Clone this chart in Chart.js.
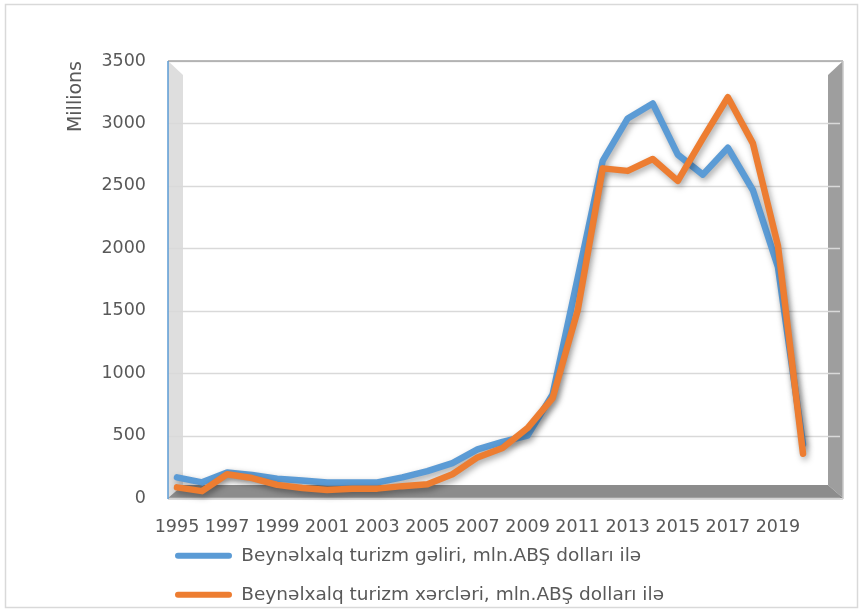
<!DOCTYPE html>
<html>
<head>
<meta charset="utf-8">
<script src="https://cdn.jsdelivr.net/npm/chart.js@4.4.1/dist/chart.umd.min.js"></script>
<style>
  html, body { margin: 0; padding: 0; background: #fff; }
  canvas { display: block; }
</style>
</head>
<body>
<canvas id="tourism" width="863" height="610"></canvas>
<script>
// years on the category axis
const years = [1995, 1996, 1997, 1998, 1999, 2000, 2001, 2002, 2003, 2004, 2005, 2006, 2007,
  2008, 2009, 2010, 2011, 2012, 2013, 2014, 2015, 2016, 2017, 2018, 2019, 2020];

// international tourism receipts, mln USD
const receipts = [165, 125, 205, 185, 155, 140, 125, 125, 125, 165, 215, 280, 390,
  450, 500, 830, 1760, 2700, 3040, 3160, 2750, 2590, 2805, 2465, 1850, 430];

// international tourism expenditures, mln USD
const expenses = [85, 55, 190, 160, 105, 80, 65, 75, 75, 95, 110, 190, 325,
  400, 560, 800, 1500, 2640, 2620, 2715, 2540, 2880, 3210, 2840, 2020, 355];

const yTicks = [0, 500, 1000, 1500, 2000, 2500, 3000, 3500];

const seriesNames = [
  'Beynəlxalq turizm gəliri, mln.ABŞ dolları ilə',
  'Beynəlxalq turizm xərcləri, mln.ABŞ dolları ilə'
];

const FONT = "'DejaVu Sans', sans-serif";
const TEXT = '#595959';

// outer border, 3D walls, gridlines
const frame = {
  id: 'frame',
  beforeDraw(chart) {
    const { ctx, width, height } = chart;
    ctx.save();
    ctx.fillStyle = '#fff';
    ctx.fillRect(0, 0, width, height);
    ctx.strokeStyle = '#d9d9d9';
    ctx.lineWidth = 1.5;
    ctx.strokeRect(5.5, 4.5, width - 11, height - 7);
    ctx.restore();
  },
  afterLayout(chart) {
    const a = chart.chartArea;
    const lg = chart.legend;
    const pad = lg.options.labels.padding;
    lg.left = a.left - 2 - pad;
    lg.top = a.bottom + 28;
  },
  beforeDatasetsDraw(chart) {
    const { ctx, chartArea: a } = chart;
    const y = chart.scales.y;
    const top = y.getPixelForValue(yTicks[yTicks.length - 1]);
    const fb = y.getPixelForValue(0);
    const fl = a.left - 9, bl = a.left + 6, br = a.right + 25, fr = a.right + 40;
    const bb = fb - 13, bev = 14;

    ctx.save();
    // left wall
    ctx.fillStyle = '#dedede';
    ctx.beginPath();
    ctx.moveTo(fl, top); ctx.lineTo(bl, top + bev); ctx.lineTo(bl, bb); ctx.lineTo(fl, fb);
    ctx.closePath(); ctx.fill();
    // right wall
    ctx.fillStyle = '#9e9e9e';
    ctx.beginPath();
    ctx.moveTo(br, top + bev); ctx.lineTo(fr, top); ctx.lineTo(fr, fb); ctx.lineTo(br, bb);
    ctx.closePath(); ctx.fill();
    // floor
    ctx.fillStyle = '#8c8c8c';
    ctx.beginPath();
    ctx.moveTo(fl, fb); ctx.lineTo(bl, bb); ctx.lineTo(br, bb); ctx.lineTo(fr, fb);
    ctx.closePath(); ctx.fill();

    // gridlines
    ctx.strokeStyle = '#d9d9d9';
    ctx.lineWidth = 1.5;
    yTicks.forEach(v => {
      const py = Math.round(y.getPixelForValue(v)) + 0.5;
      ctx.beginPath();
      ctx.moveTo(fl, py);
      ctx.lineTo(fr - 3, py);
      ctx.stroke();
    });

    // top edge
    ctx.strokeStyle = '#a6a6a6';
    ctx.beginPath(); ctx.moveTo(fl, top); ctx.lineTo(fr, top); ctx.stroke();
    // right edge
    ctx.strokeStyle = '#c8c8c8';
    ctx.beginPath(); ctx.moveTo(fr, top); ctx.lineTo(fr, fb + 1); ctx.stroke();
    // bottom edge
    ctx.strokeStyle = '#d0d0d0';
    ctx.beginPath(); ctx.moveTo(fl, fb + 1); ctx.lineTo(fr, fb + 1); ctx.stroke();
    // vertical axis line
    ctx.strokeStyle = '#5b9bd5';
    ctx.beginPath(); ctx.moveTo(fl, top); ctx.lineTo(fl, fb + 1); ctx.stroke();
    ctx.restore();
  }
};

// soft drop shadow under the lines
const shadow = {
  id: 'shadow',
  beforeDatasetDraw(chart) {
    const c = chart.ctx;
    c.save();
    c.shadowColor = 'rgba(0,0,0,0.35)';
    c.shadowBlur = 6;
    c.shadowOffsetX = 2;
    c.shadowOffsetY = 3;
  },
  afterDatasetDraw(chart) {
    chart.ctx.restore();
  }
};

new Chart(document.getElementById('tourism'), {
  type: 'line',
  data: {
    labels: years,
    datasets: [
      {
        label: seriesNames[0],
        data: receipts,
        borderColor: '#5b9bd5',
        backgroundColor: '#5b9bd5',
        order: 1
      },
      {
        label: seriesNames[1],
        data: expenses,
        borderColor: '#ed7d31',
        backgroundColor: '#ed7d31',
        order: 0
      }
    ]
  },
  options: {
    responsive: false,
    animation: false,
    layout: { padding: { top: 61, right: 60, bottom: 5, left: 0 } },
    datasets: {
      line: {
        borderWidth: 6.5,
        pointRadius: 0,
        tension: 0,
        borderCapStyle: 'round',
        borderJoinStyle: 'round',
        clip: false
      }
    },
    scales: {
      x: {
        grid: { display: false, drawTicks: false },
        border: { display: false },
        ticks: {
          autoSkip: false,
          maxRotation: 0,
          minRotation: 0,
          padding: 19,
          color: TEXT,
          font: { family: FONT, size: 17.5 },
          callback: (v, i) => (i % 2 === 0 ? String(years[i]) : '')
        }
      },
      y: {
        min: 0,
        max: 3500,
        grid: { display: false, drawTicks: false },
        border: { display: false },
        afterFit: s => { s.width = 177; },
        afterBuildTicks: s => { s.ticks = yTicks.map(v => ({ value: v })); },
        ticks: {
          padding: 31,
          color: TEXT,
          font: { family: FONT, size: 17.5 },
          callback: v => String(v)
        },
        title: {
          display: true,
          text: 'Millions',
          align: 'end',
          color: TEXT,
          padding: { top: 65, bottom: 0 },
          font: { family: FONT, size: 19 }
        }
      }
    },
    plugins: {
      tooltip: { enabled: false },
      legend: {
        position: 'bottom',
        align: 'start',
        maxHeight: 48,
        labels: {
          boxWidth: 57,
          boxHeight: 6,
          useBorderRadius: true,
          borderRadius: 3,
          padding: 20.5,
          color: TEXT,
          font: { family: FONT, size: 18.5 },
          sort: (a, b) => a.datasetIndex - b.datasetIndex,
          generateLabels: chart =>
            Chart.defaults.plugins.legend.labels.generateLabels(chart)
              .map(l => Object.assign(l, { lineWidth: 0 }))
        }
      }
    }
  },
  plugins: [frame, shadow]
});
</script>
</body>
</html>
